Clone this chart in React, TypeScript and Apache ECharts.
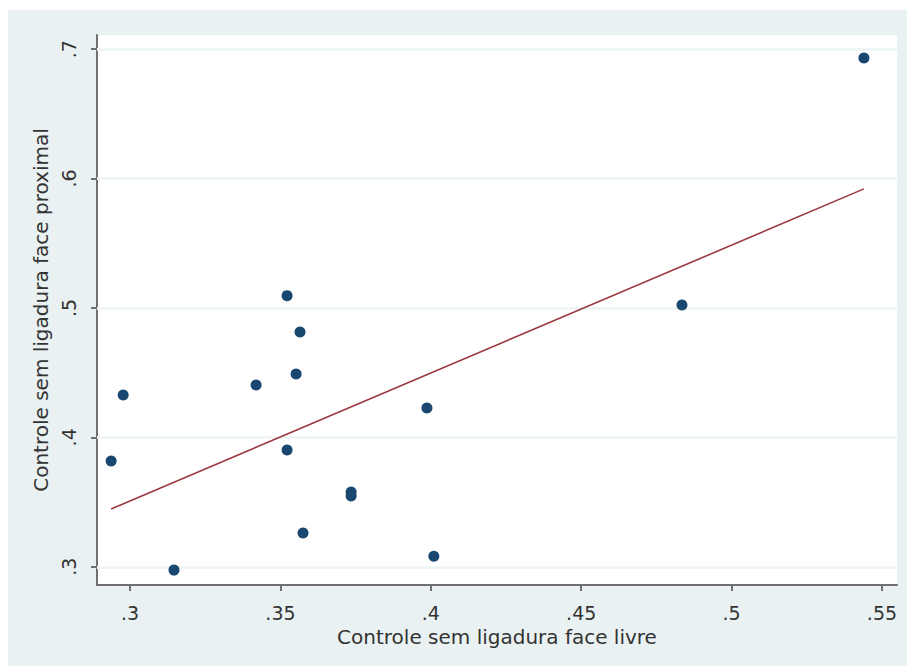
import React, { useEffect, useRef } from "react";
import * as echarts from "echarts";

const xTicks = [0.3, 0.35, 0.4, 0.45, 0.5, 0.55];
const yTicks = [0.3, 0.4, 0.5, 0.6, 0.7];

const xValues = [0.2937, 0.2977, 0.3146, 0.3419, 0.3522, 0.3522, 0.3565, 0.3552, 0.3575, 0.3735, 0.3735, 0.3987, 0.401, 0.4835, 0.544];
const yValues = [0.3817, 0.4327, 0.2974, 0.4405, 0.5095, 0.3902, 0.4814, 0.4489, 0.326, 0.3577, 0.3546, 0.4226, 0.3082, 0.5022, 0.6931];

const fitX = [0.2937, 0.544];
const fitY = [0.3447, 0.592];

const xTitle = "Controle sem ligadura face livre";
const yTitle = "Controle sem ligadura face proximal";

const fmt = (v: number) => String(+v.toFixed(3)).replace(/^0\./, ".");

export default function App() {
  const ref = useRef<HTMLDivElement>(null);
  useEffect(() => {
    if (!ref.current) return;
    const chart = echarts.init(ref.current, undefined, { renderer: "svg" });
    const font = "DejaVu Sans";
    const axisColor = "#707070";
    chart.setOption({
      animation: false,
      backgroundColor: "#ffffff",
      graphic: [
        {
          type: "rect",
          z: -10,
          silent: true,
          shape: { x: 8, y: 10, width: 899, height: 656 },
          style: { fill: "#eaf1f3" },
        },
      ],
      grid: {
        left: 97,
        top: 35,
        right: 10,
        bottom: 81,
        show: true,
        backgroundColor: "#ffffff",
        borderWidth: 0,
      },
      xAxis: {
        type: "value",
        min: 0.289,
        max: 0.555,
        name: xTitle,
        nameLocation: "middle",
        nameGap: 38,
        nameTextStyle: { fontFamily: font, fontSize: 20, color: "#333333" },
        axisLine: { show: true, onZero: false, lineStyle: { color: axisColor, width: 2 } },
        axisTick: { show: true, customValues: xTicks, length: 6, lineStyle: { color: axisColor, width: 2 } },
        axisLabel: {
          customValues: xTicks,
          formatter: fmt,
          fontFamily: font,
          fontSize: 19,
          color: "#333333",
          margin: 18,
        },
        splitLine: { show: false },
      },
      yAxis: {
        type: "value",
        min: 0.2859,
        max: 0.7109,
        name: yTitle,
        nameLocation: "middle",
        nameRotate: 90,
        nameGap: 40,
        nameTextStyle: { fontFamily: font, fontSize: 20, color: "#333333" },
        axisLine: { show: true, onZero: false, lineStyle: { color: axisColor, width: 2 } },
        axisTick: { show: true, customValues: yTicks, length: 6, lineStyle: { color: axisColor, width: 2 } },
        axisLabel: {
          customValues: yTicks,
          formatter: fmt,
          rotate: 90,
          fontFamily: font,
          fontSize: 19,
          color: "#333333",
          margin: 19,
        },
        splitLine: { show: false },
      },
      series: [
        {
          type: "scatter",
          data: xValues.map((x, i) => [x, yValues[i]]),
          symbol: "circle",
          symbolSize: 11,
          itemStyle: { color: "#1a476f", opacity: 1 },
          z: 5,
          markLine: {
            silent: true,
            symbol: ["none", "none"],
            label: { show: false },
            lineStyle: { color: "#f0f5f5", width: 3, type: "solid" },
            data: yTicks.map((v) => ({ yAxis: v })),
            z: 1,
          },
        },
        {
          type: "line",
          data: fitX.map((x, i) => [x, fitY[i]]),
          symbol: "none",
          lineStyle: { color: "#9a3a40", width: 1.6 },
          z: 4,
        },
      ],
    });
    return () => chart.dispose();
  }, []);
  return (
    <div
      ref={ref}
      style={{ position: "absolute", left: 0, top: 0, width: 907, height: 666 }}
    />
  );
}
